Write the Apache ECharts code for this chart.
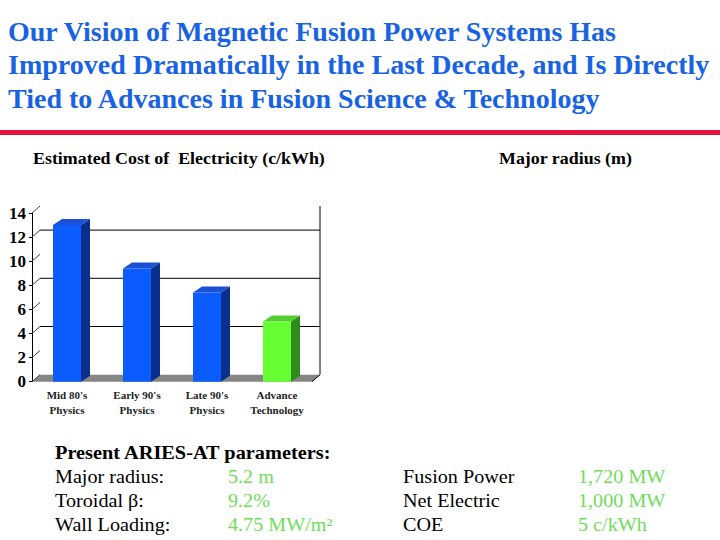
<!DOCTYPE html>
<html>
<head>
<meta charset="utf-8">
<script src="https://cdn.jsdelivr.net/npm/echarts@6/dist/echarts.min.js"></script>
<style>
  html, body { margin: 0; padding: 0; background: #fff; }
  #chart { width: 720px; height: 540px; }
</style>
</head>
<body>
<div id="chart"></div>
<script>
// data
const categories = ["Mid 80's\nPhysics", "Early 90's\nPhysics", "Late 90's\nPhysics", "Advance\nTechnology"];
const costValues = [13, 9.4, 7.4, 5.0];
const yTicks = [0, 2, 4, 6, 8, 10, 12, 14];
const wallLines = [4, 8, 12];

const titleLines = [
  'Our Vision of Magnetic Fusion Power Systems Has',
  'Improved Dramatically in the Last Decade, and Is Directly',
  'Tied to Advances in Fusion Science & Technology'
];
const paramHeader = 'Present ARIES-AT parameters:';
const paramRows = [
  ['Major radius:', '5.2 m', 'Fusion Power', '1,720 MW'],
  ['Toroidal \u03b2:', '9.2%', 'Net Electric', '1,000 MW'],
  ['Wall Loading:', '4.75 MW/m\u00b2', 'COE', '5 c/kWh']
];

const SERIF = "'Liberation Serif', 'Times New Roman', serif";
const BLUE = { front: '#0b5cff', top: '#1a4fd6', side: '#0a2f8c' };
const GREEN = { front: '#66ff33', top: '#55cc33', side: '#2e8c1c' };
const barColors = [BLUE, BLUE, BLUE, GREEN];

// 3D offsets (back wall and bar depth)
const DX = 8, DY = -7;
const BDX = 9, BDY = -6;

function renderWall(params, api) {
  const cs = params.coordSys;
  const x0 = cs.x, x1 = cs.x + cs.width;
  const yBase = api.coord([0, 0])[1];
  const yTop = api.coord([0, 14])[1];
  const children = [];
  children.push({
    type: 'polygon',
    shape: { points: [[x0, yBase], [x0 + DX, yBase + DY], [x1 + DX, yBase + DY], [x1, yBase]] },
    style: { fill: '#858585' }
  });
  wallLines.forEach(v => {
    const y = api.coord([0, v])[1] + DY;
    children.push({ type: 'line', shape: { x1: x0 + DX, y1: y, x2: x1 + DX, y2: y }, style: { stroke: '#000', lineWidth: 1 } });
  });
  yTicks.forEach(v => {
    const y = api.coord([0, v])[1];
    children.push({ type: 'line', shape: { x1: x0, y1: y, x2: x0 + DX, y2: y + DY }, style: { stroke: '#444', lineWidth: 1 } });
  });
  children.push({ type: 'line', shape: { x1: x1 + DX, y1: yTop + DY, x2: x1 + DX, y2: yBase + DY }, style: { stroke: '#000', lineWidth: 1 } });
  children.push({ type: 'line', shape: { x1: x1 + DX, y1: yBase + DY, x2: x1, y2: yBase }, style: { stroke: '#000', lineWidth: 1 } });
  return { type: 'group', children };
}

function renderBar(params, api) {
  const idx = api.value(0);
  const top = api.coord([idx, api.value(1)]);
  const base = api.coord([idx, 0]);
  const w = api.size([1, 0])[0] * 0.4;
  const l = top[0] - w / 2, r = top[0] + w / 2;
  const c = barColors[params.dataIndex];
  return {
    type: 'group',
    children: [
      { type: 'polygon', shape: { points: [[r, top[1]], [r + BDX, top[1] + BDY], [r + BDX, base[1] + BDY], [r, base[1]]] }, style: { fill: c.side } },
      { type: 'polygon', shape: { points: [[l, top[1]], [l + BDX, top[1] + BDY], [r + BDX, top[1] + BDY], [r, top[1]]] }, style: { fill: c.top } },
      { type: 'rect', shape: { x: l, y: top[1], width: w, height: base[1] - top[1] }, style: { fill: c.front } }
    ]
  };
}

// text helper: left edge at x, vertical centre at y, optional horizontal stretch
function label(text, x, y, size, weight, fill, sx) {
  return {
    type: 'text', x: x, y: y, scaleX: sx || 1,
    style: {
      text: text, x: 0, y: 0, fontFamily: SERIF, fontSize: size, fontWeight: weight,
      fill: fill, textAlign: 'left', textVerticalAlign: 'middle'
    }
  };
}

const graphics = [];
titleLines.forEach((t, i) => graphics.push(label(t, 8, 31 + i * 33.5, 28, 'bold', '#1862e4')));
graphics.push({ type: 'rect', left: 0, top: 130, shape: { width: 720, height: 5 }, style: { fill: '#e8103c' } });
graphics.push(label('Estimated Cost of  Electricity (c/kWh)', 33, 159, 16, 'bold', '#000', 1.12));
graphics.push(label('Major radius (m)', 499, 159, 16, 'bold', '#000', 1.12));
graphics.push(label(paramHeader, 55, 453, 18, 'bold', '#000', 1.13));
const colX = [55, 228, 403, 578];
paramRows.forEach((row, i) => {
  row.forEach((cell, j) => {
    graphics.push(label(cell, colX[j], 477 + i * 24, 18, 'normal', j % 2 ? '#6fdc5a' : '#000', 1.12));
  });
});

const chart = echarts.init(document.getElementById('chart'), null, { renderer: 'svg' });
chart.setOption({
  animation: false,
  backgroundColor: '#fff',
  grid: { left: 32, top: 213, width: 280, height: 168.7 },
  xAxis: {
    type: 'category',
    data: categories,
    axisLine: { show: false },
    axisTick: { show: false },
    axisLabel: { margin: 6, fontFamily: SERIF, fontWeight: 'bold', fontSize: 11, lineHeight: 15, color: '#222' }
  },
  yAxis: {
    type: 'value',
    min: 0,
    max: 14,
    interval: 2,
    axisLine: { show: true, lineStyle: { color: '#000' } },
    axisTick: { show: true, length: 3, lineStyle: { color: '#000' } },
    axisLabel: { margin: 6, fontFamily: SERIF, fontWeight: 'bold', fontSize: 17, color: '#000' },
    splitLine: { show: false }
  },
  series: [
    { type: 'custom', renderItem: renderWall, data: [[0, 0]], z: 1, silent: true },
    { type: 'custom', renderItem: renderBar, data: costValues.map((v, i) => [i, v]), z: 2 }
  ],
  graphic: graphics
});
</script>
</body>
</html>
